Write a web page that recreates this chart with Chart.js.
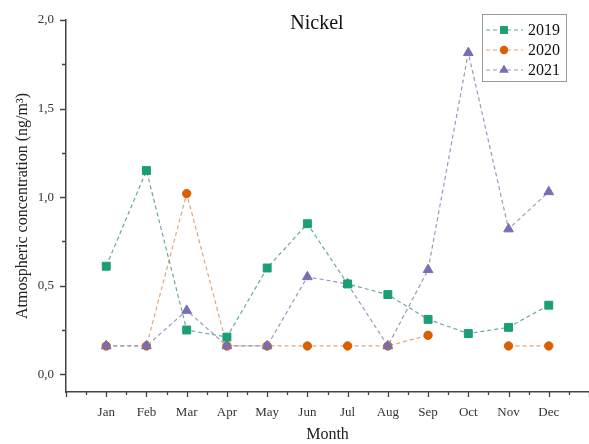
<!DOCTYPE html>
<html>
<head>
<meta charset="utf-8">
<title>Nickel</title>
<script src="https://cdn.jsdelivr.net/npm/chart.js@4.4.1/dist/chart.umd.min.js"></script>
<style>
  html, body { margin: 0; padding: 0; background: #fff; }
  canvas { display: block; }
</style>
</head>
<body>
<canvas id="myChart" width="589" height="444"></canvas>
<script>
const months = ['Jan', 'Feb', 'Mar', 'Apr', 'May', 'Jun', 'Jul', 'Aug', 'Sep', 'Oct', 'Nov', 'Dec'];
const years = ['2019', '2020', '2021'];

// ng/m3, one value per month (null = no sample)
const nickel2019 = [0.61, 1.15, 0.25, 0.21, 0.60, 0.85, 0.51, 0.45, 0.31, 0.23, 0.265, 0.39];
const nickel2020 = [0.16, 0.16, 1.02, 0.16, 0.16, 0.16, 0.16, 0.16, 0.22, null, 0.16, 0.16];
const nickel2021 = [0.16, 0.16, 0.36, 0.16, 0.16, 0.55, 0.51, 0.16, 0.59, 1.815, 0.82, 1.03];

const yTicks = [0, 0.25, 0.5, 0.75, 1, 1.25, 1.5, 1.75, 2];
const xTicks = [];
for (let i = 0; i <= 26; i++) xTicks.push(i / 2);

const markerColors = ['#1b9e77', '#d95f02', '#7570b3'];
const lineColors = ['#6aa89c', '#dfa67a', '#9a97c2'];
const markers = ['rect', 'circle', 'triangle'];
const markerSize = [5.6, 4.2, 5.6];
const font = 'Liberation Serif, Times New Roman, serif';

function toPoints(arr) {
  return arr.map((v, i) => ({ x: i + 1, y: v }));
}

const series = [nickel2019, nickel2020, nickel2021];
const drawOrder = [0, 2, 1];

const datasets = series.map((s, k) => ({
  label: years[k],
  data: toPoints(s),
  order: drawOrder[k],
  borderColor: lineColors[k],
  borderWidth: 1.2,
  borderDash: [4, 3],
  pointStyle: markers[k],
  pointRadius: markerSize[k],
  pointBackgroundColor: markerColors[k],
  pointBorderColor: markerColors[k],
  pointBorderWidth: 1,
  spanGaps: false,
  tension: 0,
  clip: false
}));

// axis tick marks (long ones on labelled values, short ones between)
const tickMarks = {
  id: 'tickMarks',
  afterDraw(chart) {
    const ctx = chart.ctx;
    const xs = chart.scales.x, ys = chart.scales.y;
    ctx.save();
    ctx.strokeStyle = '#444';
    ctx.lineWidth = 1.3;
    ctx.beginPath();
    ys.ticks.forEach(t => {
      const y = Math.round(ys.getPixelForValue(t.value)) + 0.5;
      const len = (t.value * 2) % 1 === 0 ? 6 : 4;
      ctx.moveTo(ys.right, y);
      ctx.lineTo(ys.right - len, y);
    });
    xs.ticks.forEach(t => {
      const x = Math.round(xs.getPixelForValue(t.value)) + 0.5;
      const len = t.value % 1 === 0 ? 5 : 3;
      ctx.moveTo(x, xs.top);
      ctx.lineTo(x, xs.top + len);
    });
    ctx.stroke();
    ctx.restore();
  }
};

// title inside the plot and the legend box with line + marker samples
const titleAndLegend = {
  id: 'titleAndLegend',
  afterDraw(chart) {
    const ctx = chart.ctx;
    ctx.save();
    ctx.fillStyle = '#111';
    ctx.font = '20px ' + font;
    ctx.textAlign = 'center';
    ctx.textBaseline = 'middle';
    ctx.fillText('Nickel', 317, 24);

    const bx = 482.5, by = 14.5, bw = 84, bh = 67;
    ctx.fillStyle = '#fff';
    ctx.fillRect(bx, by, bw, bh);
    ctx.strokeStyle = '#9a9a9a';
    ctx.lineWidth = 1;
    ctx.strokeRect(bx, by, bw, bh);

    chart.data.datasets.forEach((ds, k) => {
      const y = 30 + k * 20;
      ctx.strokeStyle = ds.borderColor;
      ctx.lineWidth = 1.2;
      ctx.setLineDash([4, 3]);
      ctx.beginPath();
      ctx.moveTo(486, y);
      ctx.lineTo(523, y);
      ctx.stroke();
      ctx.setLineDash([]);
      ctx.fillStyle = ds.pointBackgroundColor;
      ctx.strokeStyle = ds.pointBorderColor;
      ctx.lineWidth = 1;
      Chart.helpers.drawPoint(ctx, { pointStyle: ds.pointStyle, radius: ds.pointRadius, rotation: 0 }, 504, y);
      ctx.fillStyle = '#111';
      ctx.font = '16px ' + font;
      ctx.textAlign = 'left';
      ctx.textBaseline = 'middle';
      ctx.fillText(ds.label, 528, y + 1);
    });
    ctx.restore();
  }
};

const ctx = document.getElementById('myChart');

new Chart(ctx, {
  type: 'line',
  data: { datasets: datasets },
  options: {
    responsive: false,
    devicePixelRatio: 1,
    animation: false,
    layout: { autoPadding: false, padding: { top: 20, right: 0, left: 0, bottom: 0 } },
    plugins: {
      legend: { display: false },
      title: { display: false },
      tooltip: { enabled: false }
    },
    scales: {
      x: {
        type: 'linear',
        min: 0,
        max: 13,
        afterBuildTicks: s => { s.ticks = xTicks.map(v => ({ value: v })); },
        afterFit: s => { s.height = 52; s.paddingLeft = 0; s.paddingRight = 0; },
        grid: { display: false, drawTicks: false },
        border: { display: true, color: '#444', width: 1.5 },
        ticks: {
          autoSkip: false,
          maxRotation: 0,
          padding: 13,
          color: '#333',
          font: { family: font, size: 13 },
          callback: v => (Number.isInteger(v) && v >= 1 && v <= 12) ? months[v - 1] : ''
        },
        title: {
          display: true,
          text: 'Month',
          color: '#222',
          font: { family: font, size: 16, lineHeight: 1 },
          padding: { top: 0, bottom: 1 }
        }
      },
      y: {
        min: -0.1,
        max: 2,
        afterBuildTicks: s => { s.ticks = yTicks.map(v => ({ value: v })); },
        afterFit: s => { s.width = 66; },
        grid: { display: false, drawTicks: false },
        border: { display: true, color: '#444', width: 1.5 },
        ticks: {
          padding: 12,
          color: '#333',
          font: { family: font, size: 13 },
          callback: v => ((v * 2) % 1 === 0) ? v.toFixed(1).replace('.', ',') : ''
        },
        title: {
          display: true,
          text: 'Atmospheric concentration (ng/m³)',
          color: '#222',
          font: { family: font, size: 16, lineHeight: 1 },
          padding: { top: 15, bottom: 0 }
        }
      }
    }
  },
  plugins: [tickMarks, titleAndLegend]
});
</script>
</body>
</html>
